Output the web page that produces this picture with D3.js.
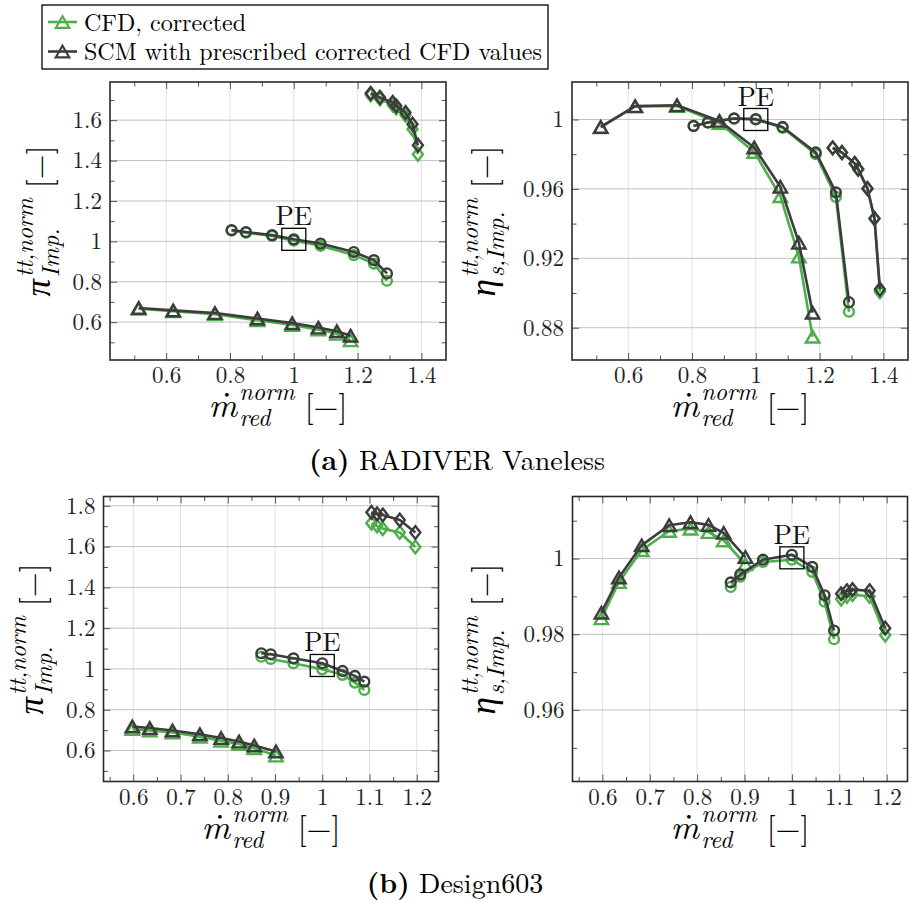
<!DOCTYPE html>
<meta charset="utf-8">
<style>
  body { margin: 0; background: #fff; }
  svg text { font-family: "Latin Modern Roman", "Liberation Serif", "Times New Roman", serif; }
</style>
<body>
<svg id="fig" width="909" height="900"></svg>

<script src="https://cdn.jsdelivr.net/npm/d3@7/dist/d3.min.js"></script>
<script>
// ---------- (a) RADIVER Vaneless ----------
// triangle speed line
const radTriM      = [0.514, 0.622, 0.753, 0.886, 0.995, 1.077, 1.135, 1.178];
const radTriPiCFD  = [0.666, 0.654, 0.639, 0.609, 0.586, 0.563, 0.542, 0.510];
const radTriPiSCM  = [0.670, 0.658, 0.645, 0.618, 0.595, 0.573, 0.555, 0.533];
const radTriEtaCFD = [0.9955, 1.0075, 1.0078, 0.9980, 0.9813, 0.9558, 0.9210, 0.8748];
const radTriEtaSCM = [0.9957, 1.0077, 1.0082, 0.9992, 0.9839, 0.9612, 0.9290, 0.8887];
// circle speed line
const radCirM      = [0.805, 0.850, 0.932, 1.000, 1.084, 1.188, 1.251, 1.292];
const radCirPiCFD  = [1.053, 1.043, 1.027, 1.003, 0.978, 0.932, 0.890, 0.805];
const radCirPiSCM  = [1.056, 1.046, 1.031, 1.010, 0.989, 0.947, 0.907, 0.841];
const radCirEtaCFD = [0.9962, 0.9982, 1.0005, 1.0000, 0.9952, 0.9800, 0.9554, 0.8892];
const radCirEtaSCM = [0.9963, 0.9983, 1.0006, 1.0002, 0.9957, 0.9810, 0.9580, 0.8947];
// diamond speed line
const radDiaM      = [1.241, 1.270, 1.310, 1.321, 1.350, 1.372, 1.389];
const radDiaPiCFD  = [1.725, 1.705, 1.675, 1.660, 1.625, 1.555, 1.431];
const radDiaPiSCM  = [1.733, 1.713, 1.688, 1.671, 1.638, 1.580, 1.476];
const radDiaEtaCFD = [0.9835, 0.9808, 0.9745, 0.9712, 0.9600, 0.9428, 0.9007];
const radDiaEtaSCM = [0.9837, 0.9810, 0.9747, 0.9714, 0.9603, 0.9430, 0.9022];
const radPE = {m: 1.0, pi: 1.010, eta: 1.0};

// ---------- (b) Design603 ----------
const desTriM      = [0.598, 0.635, 0.683, 0.741, 0.786, 0.824, 0.856, 0.902];
const desTriPiCFD  = [0.705, 0.698, 0.688, 0.668, 0.648, 0.632, 0.611, 0.575];
const desTriPiSCM  = [0.718, 0.710, 0.698, 0.680, 0.661, 0.644, 0.625, 0.595];
const desTriEtaCFD = [0.9842, 0.9938, 1.0022, 1.0073, 1.0079, 1.0070, 1.0048, 0.9985];
const desTriEtaSCM = [0.9857, 0.9950, 1.0035, 1.0088, 1.0096, 1.0089, 1.0068, 1.0004];
const desCirM      = [0.871, 0.891, 0.939, 1.000, 1.043, 1.069, 1.089];
const desCirPiCFD  = [1.060, 1.049, 1.028, 0.998, 0.971, 0.933, 0.897];
const desCirPiSCM  = [1.077, 1.072, 1.052, 1.028, 0.990, 0.966, 0.938];
const desCirEtaCFD = [0.9925, 0.9952, 0.9991, 0.9997, 0.9965, 0.9886, 0.9787];
const desCirEtaSCM = [0.9937, 0.9958, 0.9997, 1.0010, 0.9978, 0.9903, 0.9810];
const desDiaM      = [1.104, 1.116, 1.128, 1.164, 1.197];
const desDiaPiCFD  = [1.715, 1.701, 1.688, 1.669, 1.598];
const desDiaPiSCM  = [1.768, 1.760, 1.755, 1.730, 1.669];
const desDiaEtaCFD = [0.9893, 0.9900, 0.9905, 0.9900, 0.9798];
const desDiaEtaSCM = [0.9907, 0.9915, 0.9918, 0.9915, 0.9816];
const desPE = {m: 1.0, pi: 1.017, eta: 1.0002};

// ---------- ticks ----------
const xTicksA = [0.6, 0.8, 1, 1.2, 1.4],  xMinorA = [0.5, 0.7, 0.9, 1.1, 1.3];
const xTicksB = [0.6, 0.7, 0.8, 0.9, 1, 1.1, 1.2];
const xMinorB = [0.55, 0.65, 0.75, 0.85, 0.95, 1.05, 1.15];
const piTicksA = [0.6, 0.8, 1, 1.2, 1.4, 1.6], piMinorA = [0.5, 0.7, 0.9, 1.1, 1.3, 1.5, 1.7];
const etaTicksA = [0.88, 0.92, 0.96, 1], etaMinorA = [0.90, 0.94, 0.98];
const piTicksB = [0.6, 0.8, 1, 1.2, 1.4, 1.6, 1.8], piMinorB = [0.5, 0.7, 0.9, 1.1, 1.3, 1.5, 1.7];
const etaTicksB = [0.96, 0.98, 1], etaMinorB = [0.95, 0.97, 0.99, 1.01];

const green = "#4dae4a", dark = "#3c3c3c";
const svg = d3.select("#fig");
const fmt = d3.format("~g");

const curves = (tri, cir, dia) => [
  {m: tri[0], cfd: tri[1], scm: tri[2], shape: "tri"},
  {m: cir[0], cfd: cir[1], scm: cir[2], shape: "cir"},
  {m: dia[0], cfd: dia[1], scm: dia[2], shape: "dia"}
];

const panels = [
  {left: 110, top: 82, w: 336, h: 278, xd: [0.424, 1.477], yd: [0.4125, 1.789],
   xMaj: xTicksA, xMin: xMinorA, yMaj: piTicksA, yMin: piMinorA,
   sym: "π", labX: 50, pe: [radPE.m, radPE.pi], peDy: 14,
   curves: curves([radTriM, radTriPiCFD, radTriPiSCM], [radCirM, radCirPiCFD, radCirPiSCM], [radDiaM, radDiaPiCFD, radDiaPiSCM])},
  {left: 572, top: 82, w: 336, h: 278, xd: [0.424, 1.477], yd: [0.8614, 1.0216],
   xMaj: xTicksA, xMin: xMinorA, yMaj: etaTicksA, yMin: etaMinorA,
   sym: "η", labX: 495, pe: [radPE.m, radPE.eta], peDy: 13,
   curves: curves([radTriM, radTriEtaCFD, radTriEtaSCM], [radCirM, radCirEtaCFD, radCirEtaSCM], [radDiaM, radDiaEtaCFD, radDiaEtaSCM])},
  {left: 103.5, top: 496.5, w: 335, h: 285, xd: [0.537, 1.246], yd: [0.448, 1.8456],
   xMaj: xTicksB, xMin: xMinorB, yMaj: piTicksB, yMin: piMinorB,
   sym: "π", labX: 43, pe: [desPE.m, desPE.pi], peDy: 14,
   curves: curves([desTriM, desTriPiCFD, desTriPiSCM], [desCirM, desCirPiCFD, desCirPiSCM], [desDiaM, desDiaPiCFD, desDiaPiSCM])},
  {left: 572.5, top: 496.5, w: 335, h: 285, xd: [0.537, 1.244], yd: [0.9411, 1.0164],
   xMaj: xTicksB, xMin: xMinorB, yMaj: etaTicksB, yMin: etaMinorB,
   sym: "η", labX: 495, pe: [desPE.m, desPE.eta], peDy: 14,
   curves: curves([desTriM, desTriEtaCFD, desTriEtaSCM], [desCirM, desCirEtaCFD, desCirEtaSCM], [desDiaM, desDiaEtaCFD, desDiaEtaSCM])}
];

// marker shapes, centred on their bounding box
const circ = d3.path();
circ.arc(0, 0, 4.9, 0, 2 * Math.PI);
const shapes = {
  tri: "M0,-5.8L6.7,5.8L-6.7,5.8Z",
  dia: "M0,-6.4L5,0L0,6.4L-5,0Z",
  cir: circ.toString()
};

function drawMarks(g, pts, shape, color, sw) {
  g.selectAll(null).data(pts).enter().append("path")
    .attr("d", shapes[shape])
    .attr("transform", d => `translate(${d[0]},${d[1]})`)
    .attr("fill", "none").attr("stroke", color).attr("stroke-width", sw);
}

// math-style label: symbol with stacked super/subscript and unit "[−]"
function mathLabel(parent, sym, sup, sub, cx, cy, rotate, dotted) {
  const outer = parent.append("g")
    .attr("transform", `translate(${cx},${cy})` + (rotate ? " rotate(-90)" : ""));
  const g = outer.append("g");
  const t1 = g.append("text").attr("font-size", 35).attr("font-style", "italic").text(sym);
  const w1 = t1.node().getComputedTextLength() + 2;
  if (dotted) {
    // dot accent centred over the italic letter
    g.append("text").attr("x", w1 / 2 + 3).attr("y", -1).attr("text-anchor", "middle")
      .attr("font-size", 35).text("\u02D9");
  }
  const ts = g.append("text").attr("x", w1).attr("y", -17).attr("font-size", 24)
    .attr("font-style", "italic").text(sup);
  const tb = g.append("text").attr("x", w1).attr("y", 9).attr("font-size", 24)
    .attr("font-style", "italic").text(sub);
  const w2 = Math.max(ts.node().getComputedTextLength(), tb.node().getComputedTextLength());
  const tu = g.append("text").attr("x", w1 + w2 + 10).attr("font-size", 32).text("[\u2212]");
  const total = w1 + w2 + 10 + tu.node().getComputedTextLength();
  g.attr("transform", `translate(${-total / 2},0)`);
}

panels.forEach(p => {
  const x = d3.scaleLinear().domain(p.xd).range([0, p.w]);
  const y = d3.scaleLinear().domain(p.yd).range([p.h, 0]);
  const g = svg.append("g").attr("transform", `translate(${p.left},${p.top})`);

  // grid
  g.selectAll(null).data(p.xMaj).enter().append("line")
    .attr("x1", d => x(d)).attr("x2", d => x(d)).attr("y1", 0).attr("y2", p.h)
    .attr("stroke", "#e0e0e0").attr("stroke-width", 1);
  g.selectAll(null).data(p.yMaj).enter().append("line")
    .attr("y1", d => y(d)).attr("y2", d => y(d)).attr("x1", 0).attr("x2", p.w)
    .attr("stroke", "#c2c2c2").attr("stroke-width", 1);

  // axes, ticks pointing inwards on all four sides
  const axes = [
    [d3.axisBottom(x).tickValues(p.xMaj).tickSize(-7).tickPadding(7).tickFormat(fmt), `translate(0,${p.h})`],
    [d3.axisBottom(x).tickValues(p.xMin).tickSize(-4.5).tickFormat(""), `translate(0,${p.h})`],
    [d3.axisTop(x).tickValues(p.xMaj).tickSize(-7).tickFormat(""), null],
    [d3.axisTop(x).tickValues(p.xMin).tickSize(-4.5).tickFormat(""), null],
    [d3.axisLeft(y).tickValues(p.yMaj).tickSize(-7).tickPadding(8).tickFormat(fmt), null],
    [d3.axisLeft(y).tickValues(p.yMin).tickSize(-4.5).tickFormat(""), null],
    [d3.axisRight(y).tickValues(p.yMaj).tickSize(-7).tickFormat(""), `translate(${p.w},0)`],
    [d3.axisRight(y).tickValues(p.yMin).tickSize(-4.5).tickFormat(""), `translate(${p.w},0)`]
  ];
  axes.forEach(([ax, tr]) => {
    const a = g.append("g").call(ax).attr("font-size", 23).attr("color", "#222");
    if (tr) a.attr("transform", tr);
    a.select(".domain").remove();
    a.selectAll(".tick line").attr("stroke", "#555").attr("stroke-width", 1);
  });

  // series: CFD first, SCM on top
  const line = d3.line().x(d => d[0]).y(d => d[1]);
  [["cfd", green], ["scm", dark]].forEach(([key, col]) => {
    p.curves.forEach(c => {
      const pts = c.m.map((m, i) => [x(m), y(c[key][i])]);
      g.append("path").attr("d", line(pts)).attr("fill", "none")
        .attr("stroke", col).attr("stroke-width", 2.6).attr("stroke-linejoin", "round");
      drawMarks(g, pts, c.shape, col, 2.4);
    });
  });

  // design point box
  const px = x(p.pe[0]), py = y(p.pe[1]);
  g.append("rect").attr("x", px - 12).attr("y", py - 11).attr("width", 24).attr("height", 22)
    .attr("fill", "none").attr("stroke", "#000").attr("stroke-width", 1.3);
  g.append("text").attr("x", px).attr("y", py - p.peDy).attr("text-anchor", "middle")
    .attr("font-size", 27).attr("fill", "#111").text("PE");

  // frame
  g.append("rect").attr("width", p.w).attr("height", p.h)
    .attr("fill", "none").attr("stroke", "#2a2a2a").attr("stroke-width", 1.6);

  // axis labels
  mathLabel(svg, "m", "norm", "red", p.left + p.w / 2, p.top + p.h + 57, false, true);
  mathLabel(svg, p.sym, "tt,norm", p.sym === "π" ? "Imp." : "s,Imp.", p.labX, p.top + p.h / 2, true, false);
});

// legend
const legend = svg.append("g");
legend.append("rect").attr("x", 42).attr("y", 5).attr("width", 506).attr("height", 64)
  .attr("fill", "#fff").attr("stroke", "#000").attr("stroke-width", 1.3);
const legendItems = [["CFD, corrected", green], ["SCM with prescribed corrected CFD values", dark]];
legendItems.forEach(([txt, col], i) => {
  const ly = 22 + i * 29.5;
  legend.append("line").attr("x1", 48).attr("x2", 77).attr("y1", ly).attr("y2", ly)
    .attr("stroke", col).attr("stroke-width", 2.6);
  drawMarks(legend, [[62.5, ly]], "tri", col, 2.2);
  legend.append("text").attr("x", 84).attr("y", ly + 8.5).attr("font-size", 24).attr("fill", "#000").text(txt);
});

// sub-figure captions
const captions = [["(a)", " RADIVER Vaneless", 457, 470], ["(b)", " Design603", 455, 893]];
captions.forEach(([a, b, cx, cy]) => {
  const t = svg.append("text").attr("x", cx).attr("y", cy).attr("text-anchor", "middle")
    .attr("font-size", 28).attr("fill", "#000");
  t.append("tspan").attr("font-weight", "bold").text(a);
  t.append("tspan").text(b);
});
</script>
</body>
